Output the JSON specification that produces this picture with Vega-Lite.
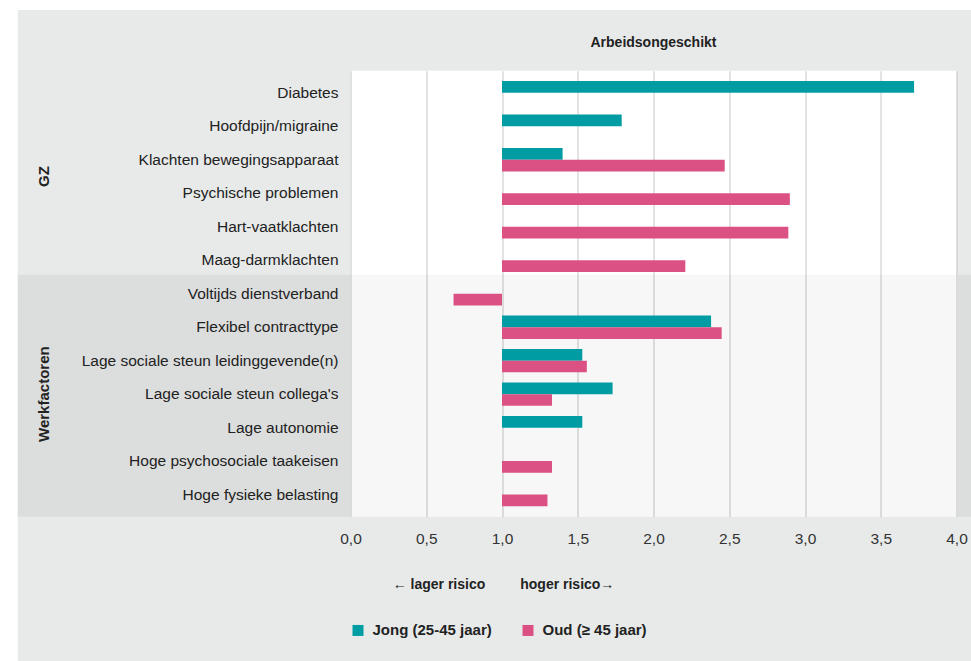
{
  "$schema": "https://vega.github.io/schema/vega-lite/v6.json",
  "width": 606,
  "height": 446,
  "autosize": {"type": "none"},
  "padding": {"left": 350.5, "top": 70.7, "right": 14.5, "bottom": 144.3},
  "background": "#e8eaea",
  "config": {
    "view": {"fill": "white", "stroke": null},
    "font": "Liberation Sans",
    "legend": {"orient": "none"}
  },
  "title": {
    "text": "Arbeidsongeschikt",
    "anchor": "middle",
    "frame": "group",
    "fontSize": 14,
    "fontWeight": "bold",
    "color": "#222",
    "baseline": "middle",
    "offset": -57.7
  },
  "datasets": {
    "items": [
      {"item": "Diabetes", "group": "GZ"},
      {"item": "Hoofdpijn/migraine", "group": "GZ"},
      {"item": "Klachten bewegingsapparaat", "group": "GZ"},
      {"item": "Psychische problemen", "group": "GZ"},
      {"item": "Hart-vaatklachten", "group": "GZ"},
      {"item": "Maag-darmklachten", "group": "GZ"},
      {"item": "Voltijds dienstverband", "group": "Werkfactoren"},
      {"item": "Flexibel contracttype", "group": "Werkfactoren"},
      {"item": "Lage sociale steun leidinggevende(n)", "group": "Werkfactoren"},
      {"item": "Lage sociale steun collega's", "group": "Werkfactoren"},
      {"item": "Lage autonomie", "group": "Werkfactoren"},
      {"item": "Hoge psychosociale taakeisen", "group": "Werkfactoren"},
      {"item": "Hoge fysieke belasting", "group": "Werkfactoren"}
    ],
    "bars": [
      {"item": "Diabetes", "series": "Jong (25-45 jaar)", "value": 3.72},
      {"item": "Hoofdpijn/migraine", "series": "Jong (25-45 jaar)", "value": 1.79},
      {"item": "Klachten bewegingsapparaat", "series": "Jong (25-45 jaar)", "value": 1.4},
      {"item": "Klachten bewegingsapparaat", "series": "Oud (≥ 45 jaar)", "value": 2.47},
      {"item": "Psychische problemen", "series": "Oud (≥ 45 jaar)", "value": 2.9},
      {"item": "Hart-vaatklachten", "series": "Oud (≥ 45 jaar)", "value": 2.89},
      {"item": "Maag-darmklachten", "series": "Oud (≥ 45 jaar)", "value": 2.21},
      {"item": "Voltijds dienstverband", "series": "Oud (≥ 45 jaar)", "value": 0.68},
      {"item": "Flexibel contracttype", "series": "Jong (25-45 jaar)", "value": 2.38},
      {"item": "Flexibel contracttype", "series": "Oud (≥ 45 jaar)", "value": 2.45},
      {"item": "Lage sociale steun leidinggevende(n)", "series": "Jong (25-45 jaar)", "value": 1.53},
      {"item": "Lage sociale steun leidinggevende(n)", "series": "Oud (≥ 45 jaar)", "value": 1.56},
      {"item": "Lage sociale steun collega's", "series": "Jong (25-45 jaar)", "value": 1.73},
      {"item": "Lage sociale steun collega's", "series": "Oud (≥ 45 jaar)", "value": 1.33},
      {"item": "Lage autonomie", "series": "Jong (25-45 jaar)", "value": 1.53},
      {"item": "Hoge psychosociale taakeisen", "series": "Oud (≥ 45 jaar)", "value": 1.33},
      {"item": "Hoge fysieke belasting", "series": "Oud (≥ 45 jaar)", "value": 1.3}
    ]
  },
  "layer": [
    {
      "data": {"values": [{}]},
      "layer": [
        {
          "mark": {"type": "rect", "color": "white", "clip": false},
          "encoding": {
            "x": {"datum": -2.6, "type": "quantitative", "scale": {"domain": [0, 4], "nice": false}},
            "x2": {"datum": 4.3},
            "y": {"datum": 1.136, "type": "quantitative", "scale": {"domain": [0, 1], "nice": false}, "axis": null},
            "y2": {"datum": 1.16}
          }
        },
        {
          "mark": {"type": "rect", "color": "white", "clip": false},
          "encoding": {
            "x": {"datum": -2.6, "type": "quantitative", "scale": {"domain": [0, 4], "nice": false}},
            "x2": {"datum": -2.196},
            "y": {"datum": -0.33, "type": "quantitative", "scale": {"domain": [0, 1], "nice": false}, "axis": null},
            "y2": {"datum": 1.16}
          }
        },
        {
          "mark": {"type": "rect", "color": "#dcdddd", "clip": false},
          "encoding": {
            "x": {"datum": -2.196, "type": "quantitative", "scale": {"domain": [0, 4], "nice": false}},
            "x2": {"datum": 0},
            "y": {"datum": 0, "type": "quantitative", "scale": {"domain": [0, 1], "nice": false}, "axis": null},
            "y2": {"datum": 0.5426}
          }
        },
        {
          "mark": {"type": "rect", "color": "#dcdddd", "clip": false},
          "encoding": {
            "x": {"datum": 4, "type": "quantitative", "scale": {"domain": [0, 4], "nice": false}},
            "x2": {"datum": 4.3},
            "y": {"datum": 0, "type": "quantitative", "scale": {"domain": [0, 1], "nice": false}, "axis": null},
            "y2": {"datum": 0.5426}
          }
        },
        {
          "mark": {"type": "rect", "color": "black", "opacity": 0.031, "clip": false},
          "encoding": {
            "x": {"datum": 0, "type": "quantitative", "scale": {"domain": [0, 4], "nice": false}},
            "x2": {"datum": 4},
            "y": {"datum": 0, "type": "quantitative", "scale": {"domain": [0, 1], "nice": false}, "axis": null},
            "y2": {"datum": 0.5426}
          }
        }
      ]
    },
    {
      "layer": [
        {
          "data": {"name": "bars"},
          "mark": {"type": "bar"},
          "encoding": {
            "y": {
              "field": "item",
              "type": "nominal",
              "sort": ["Diabetes", "Hoofdpijn/migraine", "Klachten bewegingsapparaat", "Psychische problemen", "Hart-vaatklachten", "Maag-darmklachten", "Voltijds dienstverband", "Flexibel contracttype", "Lage sociale steun leidinggevende(n)", "Lage sociale steun collega's", "Lage autonomie", "Hoge psychosociale taakeisen", "Hoge fysieke belasting"],
              "scale": {"paddingInner": 0, "paddingOuter": 0.16},
              "axis": {
                "orient": "left",
                "zindex": 1,
                "title": null,
                "ticks": false,
                "domain": false,
                "grid": false,
                "labelFontSize": 15.5,
                "labelColor": "#222",
                "labelPadding": 12.5,
                "labelLimit": 400
              }
            },
            "yOffset": {
              "field": "series",
              "type": "nominal",
              "scale": {"domain": ["Jong (25-45 jaar)", "Oud (≥ 45 jaar)"], "paddingInner": 0, "paddingOuter": 0.43}
            },
            "x": {
              "field": "value",
              "type": "quantitative",
              "scale": {"domain": [0, 4], "nice": false},
              "axis": {
                "values": [0, 0.5, 1, 1.5, 2, 2.5, 3, 3.5, 4],
                "labelExpr": "replace(format(datum.value, '.1f'), '.', ',')",
                "labelFlush": false,
                "ticks": false,
                "domain": false,
                "grid": true,
                "gridColor": "#c6c6c6",
                "gridWidth": 1,
                "labelFontSize": 15.5,
                "labelColor": "#333",
                "labelPadding": 15,
                "title": "← lager risico\u2003\u2003\u2002hoger risico→",
                "titleFontSize": 14,
                "titleFontWeight": "bold",
                "titleColor": "#222",
                "titleX": 152.5,
                "titleY": 68,
                "titleBaseline": "middle",
                "titleAlign": "center"
              }
            },
            "x2": {"datum": 1},
            "color": {
              "field": "series",
              "type": "nominal",
              "scale": {"domain": ["Jong (25-45 jaar)", "Oud (≥ 45 jaar)"], "range": ["#009ca4", "#db5184"]},
              "legend": {
                "title": null,
                "orient": "none",
                "direction": "horizontal",
                "legendX": 0,
                "legendY": 552,
                "symbolType": "square",
                "symbolSize": 121,
                "symbolStrokeWidth": 0,
                "symbolOpacity": 1,
                "labelFontSize": 15,
                "labelFontWeight": "bold",
                "labelColor": "#222",
                "labelOffset": 7,
                "columnPadding": 28
              }
            }
          }
        },
        {
          "data": {"values": [{}]},
          "mark": {"type": "text", "angle": 270, "fontSize": 15, "fontWeight": "bold", "color": "#222", "clip": false, "yOffset": -16.75, "align": "center", "baseline": "middle"},
          "encoding": {
            "x": {"datum": -2.02, "type": "quantitative", "scale": {"domain": [0, 4], "nice": false}},
            "y": {"datum": "Psychische problemen", "type": "nominal"},
            "text": {"value": "GZ"}
          }
        },
        {
          "data": {"values": [{}]},
          "mark": {"type": "text", "angle": 270, "fontSize": 15, "fontWeight": "bold", "color": "#222", "clip": false, "align": "center", "baseline": "middle"},
          "encoding": {
            "x": {"datum": -2.02, "type": "quantitative", "scale": {"domain": [0, 4], "nice": false}},
            "y": {"datum": "Lage sociale steun collega's", "type": "nominal"},
            "text": {"value": "Werkfactoren"}
          }
        }
      ]
    }
  ],
  "resolve": {"scale": {"y": "independent"}}
}
